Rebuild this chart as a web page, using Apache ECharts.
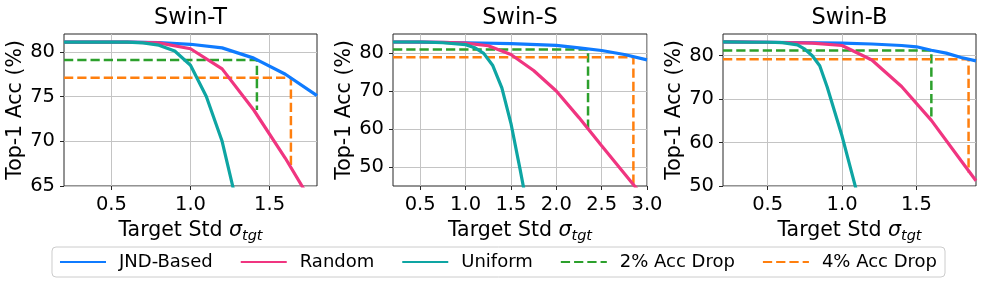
<!DOCTYPE html>
<html>
<head>
<meta charset="utf-8">
<script src="https://cdn.jsdelivr.net/npm/echarts@6/dist/echarts.min.js"></script>
<style>
html,body{margin:0;padding:0;background:#fff;}
#c{width:996px;height:283px;}
</style>
</head>
<body>
<div id="c"></div>
<script>
// ---- Data ----
var panelTitles = ['Swin-T', 'Swin-S', 'Swin-B'];
var legendNames = ['JND-Based', 'Random', 'Uniform', '2% Acc Drop', '4% Acc Drop'];

// Swin-T
var T_jnd_x  = [0.2, 0.4, 0.6, 0.8, 1.0, 1.2, 1.4, 1.6, 1.8];
var T_jnd_y  = [81.1, 81.1, 81.1, 81.05, 80.85, 80.45, 79.3, 77.5, 75.1];
var T_rand_x = [0.2, 0.4, 0.6, 0.8, 1.0, 1.2, 1.4, 1.6, 1.8];
var T_rand_y = [81.1, 81.1, 81.1, 81.0, 80.35, 78.1, 73.5, 68.1, 62.2];
var T_uni_x  = [0.2, 0.3, 0.4, 0.5, 0.6, 0.7, 0.8, 0.9, 1.0, 1.1, 1.2, 1.3];
var T_uni_y  = [81.1, 81.1, 81.1, 81.1, 81.1, 81.0, 80.75, 80.1, 78.5, 75.0, 70.0, 62.5];
var T_d2_x   = [0.2, 1.42, 1.42];
var T_d2_y   = [79.1, 79.1, 73.5];
var T_d4_x   = [0.2, 1.635, 1.635];
var T_d4_y   = [77.1, 77.1, 67.1];

// Swin-S
var S_jnd_x  = [0.2, 0.5, 1.0, 1.5, 2.0, 2.25, 2.5, 2.75, 3.0];
var S_jnd_y  = [82.9, 82.85, 82.7, 82.45, 82.0, 81.35, 80.65, 79.6, 78.2];
var S_rand_x = [0.2, 0.5, 0.75, 1.0, 1.25, 1.5, 1.75, 2.0, 2.25, 2.5, 2.75, 3.0];
var S_rand_y = [82.9, 82.9, 82.8, 82.6, 81.9, 79.6, 75.4, 70.0, 63.0, 55.6, 48.3, 41.0];
var S_uni_x  = [0.2, 0.5, 0.75, 1.0, 1.1, 1.2, 1.3, 1.4, 1.5, 1.6, 1.7];
var S_uni_y  = [82.9, 82.9, 82.7, 82.2, 81.4, 79.9, 76.7, 70.8, 61.5, 49.5, 37.0];
var S_d2_x   = [0.2, 2.35, 2.35];
var S_d2_y   = [80.9, 80.9, 60.0];
var S_d4_x   = [0.2, 2.85, 2.85];
var S_d4_y   = [78.9, 78.9, 45.4];

// Swin-B
var B_jnd_x  = [0.2, 0.5, 1.0, 1.2, 1.4, 1.5, 1.6, 1.7, 1.8, 1.9];
var B_jnd_y  = [83.2, 83.1, 82.9, 82.7, 82.35, 82.05, 81.25, 80.6, 79.6, 78.8];
var B_rand_x = [0.2, 0.5, 0.8, 1.0, 1.2, 1.4, 1.6, 1.8, 1.9];
var B_rand_y = [83.2, 83.1, 82.9, 82.35, 79.0, 72.9, 65.1, 55.8, 51.2];
var B_uni_x  = [0.2, 0.4, 0.5, 0.6, 0.7, 0.75, 0.8, 0.85, 0.9, 1.0, 1.1];
var B_uni_y  = [83.2, 83.1, 83.1, 83.0, 82.5, 81.5, 80.0, 77.7, 72.8, 61.5, 48.5];
var B_d2_x   = [0.2, 1.6, 1.6];
var B_d2_y   = [81.2, 81.2, 65.1];
var B_d4_x   = [0.2, 1.85, 1.85];
var B_d4_y   = [79.2, 79.2, 53.1];

// Axis ranges and ticks
var xMins = [0.2, 0.2, 0.2];
var xMaxs = [1.8, 3.0, 1.9];
var yMins = [65, 45, 50];
var yMaxs = [82, 85, 85];
var xTicks = [[0.5, 1.0, 1.5], [0.5, 1.0, 1.5, 2.0, 2.5, 3.0], [0.5, 1.0, 1.5]];
var yTicks = [[65, 70, 75, 80], [50, 60, 70, 80], [50, 60, 70, 80]];

// ---- Build ----
function pairs(xs, ys) { return xs.map(function (x, i) { return [x, ys[i]]; }); }

var panels = [
  [pairs(T_jnd_x, T_jnd_y), pairs(T_rand_x, T_rand_y), pairs(T_uni_x, T_uni_y), pairs(T_d2_x, T_d2_y), pairs(T_d4_x, T_d4_y)],
  [pairs(S_jnd_x, S_jnd_y), pairs(S_rand_x, S_rand_y), pairs(S_uni_x, S_uni_y), pairs(S_d2_x, S_d2_y), pairs(S_d4_x, S_d4_y)],
  [pairs(B_jnd_x, B_jnd_y), pairs(B_rand_x, B_rand_y), pairs(B_uni_x, B_uni_y), pairs(B_d2_x, B_d2_y), pairs(B_d4_x, B_d4_y)]
];

var FONT = 'DejaVu Sans';
var colors = ['#0f7bff', '#f03580', '#0ea5a3', '#2ca02c', '#ff7f0e'];
var gridLefts = [64, 393, 723];
var gridWidths = [253, 254, 253];
var gridTop = 34, gridHeight = 152;

var grids = [], xAxes = [], yAxes = [], titles = [], series = [];
for (var p = 0; p < 3; p++) {
  grids.push({
    left: gridLefts[p], top: gridTop, width: gridWidths[p], height: gridHeight,
    show: true, borderColor: '#262626', borderWidth: 1, backgroundColor: 'transparent', containLabel: false
  });
  titles.push({
    text: panelTitles[p], left: gridLefts[p] + gridWidths[p] / 2, top: 7, textAlign: 'center', padding: 0,
    textStyle: { fontFamily: FONT, fontSize: 22.5, fontWeight: 'normal', color: '#000' }
  });
  xAxes.push({
    type: 'value', gridIndex: p, min: xMins[p], max: xMaxs[p],
    axisLine: { show: false },
    axisTick: { show: true, inside: false, length: 4, lineStyle: { color: '#262626', width: 1 }, customValues: xTicks[p] },
    axisLabel: { show: true, margin: 9, fontFamily: FONT, fontSize: 19.5, color: '#000', customValues: xTicks[p],
      formatter: function (v) { return Number(v).toFixed(1); } },
    splitLine: { show: true, lineStyle: { color: '#c4c4c4', width: 1 } },
    name: '{a|Target Std }{s|σ}{sub|tgt}', nameLocation: 'middle', nameGap: 30,
    nameTextStyle: {
      fontFamily: FONT, fontSize: 20.5, color: '#000',
      rich: {
        a: { fontFamily: FONT, fontSize: 20.5, color: '#000', lineHeight: 26, verticalAlign: 'middle' },
        s: { fontFamily: FONT, fontSize: 20.5, fontStyle: 'italic', color: '#000', lineHeight: 26, verticalAlign: 'middle' },
        sub: { fontFamily: FONT, fontSize: 14.5, fontStyle: 'italic', color: '#000', lineHeight: 14, verticalAlign: 'bottom' }
      }
    }
  });
  yAxes.push({
    type: 'value', gridIndex: p, min: yMins[p], max: yMaxs[p],
    axisLine: { show: false },
    axisTick: { show: true, inside: false, length: 4, lineStyle: { color: '#262626', width: 1 }, customValues: yTicks[p] },
    axisLabel: { show: true, margin: 9, fontFamily: FONT, fontSize: 19.5, color: '#000', customValues: yTicks[p] },
    splitLine: { show: true, lineStyle: { color: '#c4c4c4', width: 1 } },
    name: 'Top-1 Acc (%)', nameLocation: 'middle', nameGap: 37, nameRotate: 90,
    nameTextStyle: { fontFamily: FONT, fontSize: 20.5, color: '#000' }
  });
  // dashed lines first (below curves)
  for (var k = 3; k < 5; k++) {
    series.push({
      name: legendNames[k], type: 'line', xAxisIndex: p, yAxisIndex: p, data: panels[p][k],
      symbol: 'none', clip: true, z: 2,
      lineStyle: { color: colors[k], width: 2.5, type: [9.25, 4] }, itemStyle: { color: colors[k] }
    });
  }
  for (var k2 = 0; k2 < 3; k2++) {
    series.push({
      name: legendNames[k2], type: 'line', xAxisIndex: p, yAxisIndex: p, data: panels[p][k2],
      symbol: 'none', clip: true, z: 3 + k2,
      lineStyle: { color: colors[k2], width: 3.2 }, itemStyle: { color: colors[k2] }
    });
  }
}

var chart = echarts.init(document.getElementById('c'), null, { renderer: 'canvas' });
chart.setOption({
  animation: false,
  backgroundColor: '#fff',
  title: titles,
  grid: grids,
  xAxis: xAxes,
  yAxis: yAxes,
  legend: {
    data: legendNames, left: 'center', top: 247,
    padding: [6, 8, 6, 7], itemGap: 27, itemWidth: 46, itemHeight: 14,
    borderColor: '#cccccc', borderWidth: 1, borderRadius: 4, backgroundColor: '#fff',
    itemStyle: { opacity: 0, color: 'transparent', borderWidth: 0 },
    textStyle: { fontFamily: FONT, fontSize: 18, color: '#000', padding: [0, 0, 0, 8] }
  },
  series: series
});
</script>
</body>
</html>
